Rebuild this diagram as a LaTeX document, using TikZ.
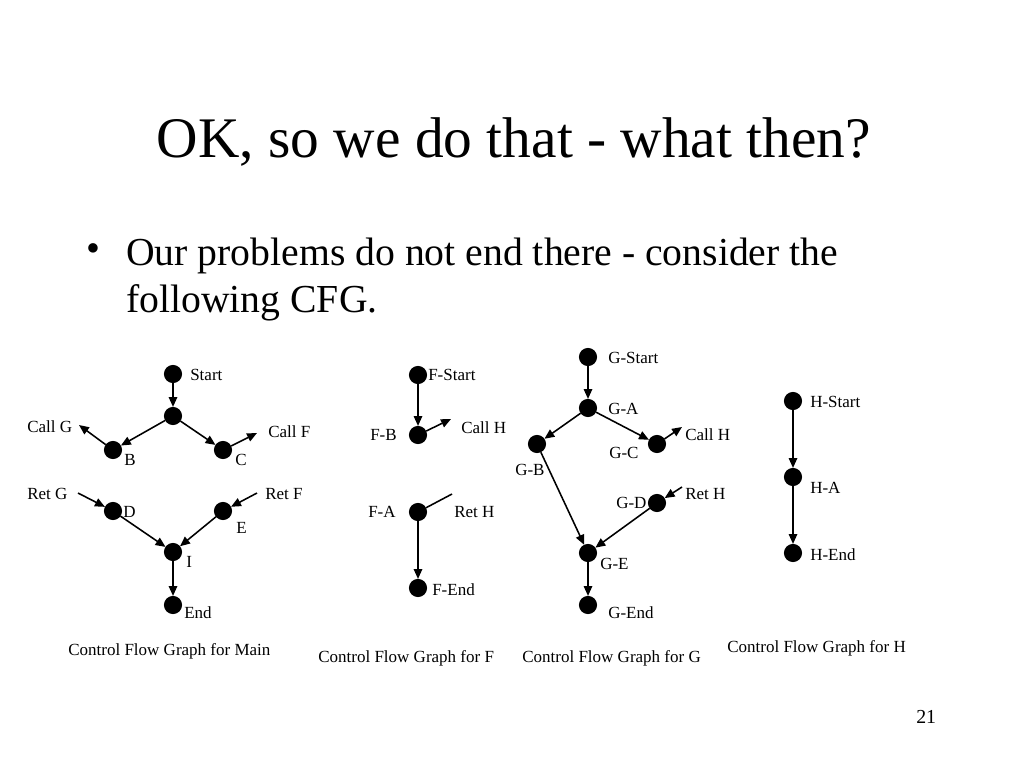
\documentclass[tikz,border=0pt]{standalone}
\usepackage{fontspec}
\setmainfont{Liberation Serif}
\usepackage{tikz}
\usetikzlibrary{arrows.meta,positioning}

\begin{document}
\begin{tikzpicture}[x=0.248mm,y=-0.248mm]
\tikzstyle{every node}+=[inner sep=0pt]
\tikzstyle{dot}=[circle,fill=black,minimum size=4.5mm,outer sep=0pt]
\tikzstyle{lbl}=[anchor=base west,font=\fontsize{12}{14}\selectfont]
\tikzstyle{edge}=[line width=1.1pt,-{Triangle[length=7pt,width=6pt]}]
\tikzstyle{plain}=[line width=1.1pt]
\useasboundingbox (0,0) rectangle (1024,768);
% title and bullet
\node[anchor=base,font=\fontsize{40.5}{48}\selectfont] (title) at (514,157) {OK, so we do that - what then?};
\node[font=\fontsize{28}{33}\selectfont] (bul) at (93,253) {\textbullet};
\node[anchor=base west,font=\fontsize{28}{33}\selectfont] (txt1) at (126,265) {Our problems do not end there - consider the};
\node[anchor=base west,font=\fontsize{28}{33}\selectfont] (txt2) at (126,312) {following CFG.};
% main
\node[dot] (mStart) at (173,374) {};
\node[dot] (mA) at (173,416) {};
\node[dot] (mB) at (113,450) {};
\node[dot] (mC) at (223,450) {};
\node[dot] (mD) at (113,511) {};
\node[dot] (mE) at (223,511) {};
\node[dot] (mI) at (173,552) {};
\node[dot] (mEnd) at (173,605) {};
\coordinate (callG) at (79,425);
\coordinate (callF) at (257,433);
\coordinate (retG) at (78,493);
\coordinate (retF) at (257,493);
\draw[edge] (mStart) -- (mA);
\draw[edge] (mA) -- (mB);
\draw[edge] (mA) -- (mC);
\draw[edge] (mB) -- (callG);
\draw[edge] (mC) -- (callF);
\draw[edge] (retG) -- (mD);
\draw[edge] (retF) -- (mE);
\draw[edge] (mD) -- (mI);
\draw[edge] (mE) -- (mI);
\draw[edge] (mI) -- (mEnd);
\node[lbl] (lStart) at (190,380) {Start};
\node[lbl] (lCallG) at (27,432) {Call G};
\node[lbl] (lCallF) at (268,437) {Call F};
\node[lbl] (lB) at (124,465) {B};
\node[lbl] (lC) at (235,465) {C};
\node[lbl] (lRetG) at (27,499) {Ret G};
\node[lbl] (lRetF) at (265,499) {Ret F};
\node[lbl] (lD) at (123,517) {D};
\node[lbl] (lE) at (236,533) {E};
\node[lbl] (lI) at (186,567) {I};
\node[lbl] (lEnd) at (184,618) {End};
\node[lbl] (capMain) at (68,655) {Control Flow Graph for Main};
% F
\node[dot] (fStart) at (418,375) {};
\node[dot] (fB) at (418,435) {};
\node[dot] (fA) at (418,512) {};
\node[dot] (fEnd) at (418,588) {};
\coordinate (fCallH) at (451,419);
\coordinate (fRetH) at (452,494);
\draw[edge] (fStart) -- (fB);
\draw[edge] (fB) -- (fCallH);
\draw[plain] (fRetH) -- (fA);
\draw[edge] (fA) -- (fEnd);
\node[lbl] (lfStart) at (428,380) {F-Start};
\node[lbl] (lfB) at (370,440) {F-B};
\node[lbl] (lfCallH) at (461,433) {Call H};
\node[lbl] (lfA) at (368,517) {F-A};
\node[lbl] (lfRetH) at (454,517) {Ret H};
\node[lbl] (lfEnd) at (432,595) {F-End};
\node[lbl] (capF) at (318,662) {Control Flow Graph for F};
% G
\node[dot] (gStart) at (588,357) {};
\node[dot] (gA) at (588,408) {};
\node[dot] (gB) at (537,444) {};
\node[dot] (gC) at (657,444) {};
\node[dot] (gD) at (657,503) {};
\node[dot] (gE) at (588,553) {};
\node[dot] (gEnd) at (588,605) {};
\coordinate (gCallH) at (682,427);
\coordinate (gRetH) at (682,487);
\draw[edge] (gStart) -- (gA);
\draw[edge] (gA) -- (gB);
\draw[edge] (gA) -- (gC);
\draw[edge] (gC) -- (gCallH);
\draw[edge] (gRetH) -- (gD);
\draw[edge] (gB) -- (gE);
\draw[edge] (gD) -- (gE);
\draw[edge] (gE) -- (gEnd);
\node[lbl] (lgStart) at (608,363) {G-Start};
\node[lbl] (lgA) at (608,414) {G-A};
\node[lbl] (lgB) at (515,475) {G-B};
\node[lbl] (lgC) at (609,458) {G-C};
\node[lbl] (lgCallH) at (685,440) {Call H};
\node[lbl] (lgD) at (616,508) {G-D};
\node[lbl] (lgRetH) at (685,499) {Ret H};
\node[lbl] (lgE) at (600,569) {G-E};
\node[lbl] (lgEnd) at (608,618) {G-End};
\node[lbl] (capG) at (522,662) {Control Flow Graph for G};
% H
\node[dot] (hStart) at (793,401) {};
\node[dot] (hA) at (793,477) {};
\node[dot] (hEnd) at (793,553) {};
\draw[edge] (hStart) -- (hA);
\draw[edge] (hA) -- (hEnd);
\node[lbl] (lhStart) at (810,407) {H-Start};
\node[lbl] (lhA) at (810,493) {H-A};
\node[lbl] (lhEnd) at (810,560) {H-End};
\node[lbl] (capH) at (727,652) {Control Flow Graph for H};
% page number
\node[anchor=base west,font=\fontsize{14}{16}\selectfont] (pg) at (916,723) {21};
\end{tikzpicture}
\end{document}
